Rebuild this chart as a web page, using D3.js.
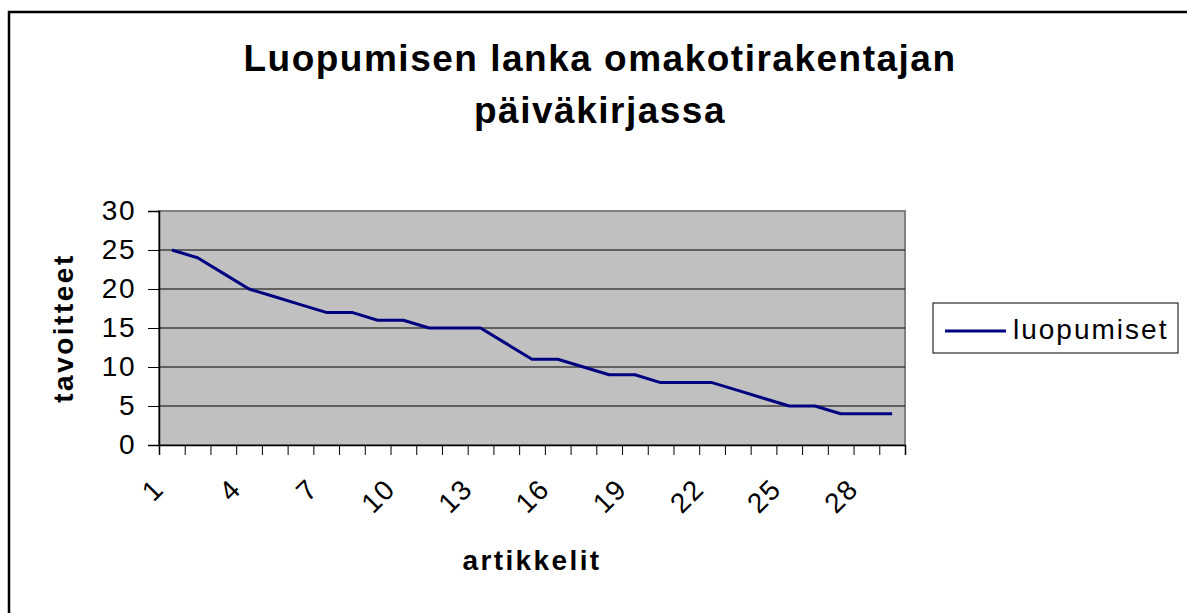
<!DOCTYPE html>
<html>
<head>
<meta charset="utf-8">
<script src="https://cdn.jsdelivr.net/npm/d3@7"></script>
<style>
  body { margin: 0; background: #fff; }
  svg { display: block; font-family: "Liberation Sans", Arial, sans-serif; }
</style>
</head>
<body>
<div id="container"></div>
<script>
let w = 1187;
let h = 613;

// data
let articles = [1,2,3,4,5,6,7,8,9,10,11,12,13,14,15,16,17,18,19,20,21,22,23,24,25,26,27,28,29];
let luopumiset = [25,24,22,20,19,18,17,17,16,16,15,15,15,13,11,11,10,9,9,8,8,8,7,6,5,5,4,4,4];
let xLabels = [1,4,7,10,13,16,19,22,25,28];
let yTicks = [0,5,10,15,20,25,30];
let titleLines = ["Luopumisen lanka omakotirakentajan", "päiväkirjassa"];

let viz = d3.select("#container")
  .append("svg")
    .attr("width", w)
    .attr("height", h)
;

// chart border
viz.append("rect")
  .attr("x", 9).attr("y", 12)
  .attr("width", 1300).attr("height", 800)
  .attr("fill", "none")
  .attr("stroke", "#000")
  .attr("stroke-width", 2.5);

let pLeft = 159, pRight = 905, pTop = 211, pBottom = 445;

// scales
let xScale = d3.scaleBand().domain(articles).range([pLeft, pRight]);
let xEdge = d3.scaleLinear().domain([0, articles.length]).range([pLeft, pRight]);
let yScale = d3.scaleLinear().domain([0, 30]).range([pBottom, pTop]);

// plot area
viz.append("rect")
  .attr("x", pLeft).attr("y", pTop)
  .attr("width", pRight - pLeft).attr("height", pBottom - pTop)
  .attr("fill", "#c0c0c0")
  .attr("stroke", "#808080")
  .attr("stroke-width", 2);

// gridlines
viz.append("g").selectAll("line").data(yTicks.filter(d => d > 0 && d < 30)).enter()
  .append("line")
    .attr("x1", pLeft).attr("x2", pRight)
    .attr("y1", d => yScale(d)).attr("y2", d => yScale(d))
    .attr("stroke", "#000")
    .attr("stroke-width", 1);

// y axis
let yAxis = d3.axisLeft(yScale).tickValues(yTicks).tickSize(11).tickPadding(12);
let yAxisGroup = viz.append("g").attr("class", "yaxis")
  .attr("transform", "translate(" + pLeft + ",0)")
  .call(yAxis);
yAxisGroup.select(".domain").attr("stroke", "#000").attr("stroke-width", 1.5);
yAxisGroup.selectAll("line").attr("stroke", "#000");
yAxisGroup.selectAll("text")
  .attr("font-size", 28)
  .attr("letter-spacing", 1.5)
  .attr("fill", "#000")
  .attr("font-family", "Liberation Sans, Arial, sans-serif");

// x axis tick marks at category edges
let xAxis = d3.axisBottom(xEdge).tickValues(d3.range(articles.length + 1)).tickSize(10).tickFormat("");
let xAxisGroup = viz.append("g").attr("class", "xaxis")
  .attr("transform", "translate(0," + pBottom + ")")
  .call(xAxis);
xAxisGroup.select(".domain").attr("stroke", "#000").attr("stroke-width", 1.5);
xAxisGroup.selectAll("line").attr("stroke", "#000");

// x labels, rotated
viz.append("g").selectAll("text").data(xLabels).enter()
  .append("text")
    .attr("transform", d => "translate(" + (xScale(d) + xScale.bandwidth() / 2 - 13) + "," + 484 + ") rotate(-45)")
    .attr("text-anchor", "end")
    .attr("dominant-baseline", "central")
    .attr("font-size", 28)
    .attr("letter-spacing", 1.5)
    .text(d => d);

// line
let line = d3.line()
  .x((d, i) => xScale(articles[i]) + xScale.bandwidth() / 2)
  .y(d => yScale(d));

viz.append("path")
  .datum(luopumiset)
  .attr("d", line)
  .attr("fill", "none")
  .attr("stroke", "#000080")
  .attr("stroke-width", 3)
  .attr("stroke-linejoin", "round");

// title
viz.append("g").selectAll("text").data(titleLines).enter()
  .append("text")
    .attr("x", 600)
    .attr("y", (d, i) => 71 + i * 52)
    .attr("text-anchor", "middle")
    .attr("font-size", 37)
    .attr("font-weight", "bold")
    .attr("letter-spacing", 1.5)
    .text(d => d);

// axis titles
viz.append("text")
  .attr("x", (pLeft + pRight) / 2)
  .attr("y", 570)
  .attr("text-anchor", "middle")
  .attr("font-size", 28)
  .attr("font-weight", "bold")
  .attr("letter-spacing", 2.4)
  .text("artikkelit");

viz.append("text")
  .attr("transform", "translate(73," + ((pTop + pBottom) / 2) + ") rotate(-90)")
  .attr("text-anchor", "middle")
  .attr("font-size", 28)
  .attr("font-weight", "bold")
  .attr("letter-spacing", 2.5)
  .text("tavoitteet");

// legend
let legend = viz.append("g").attr("class", "legend");
legend.append("rect")
  .attr("x", 933).attr("y", 303)
  .attr("width", 245).attr("height", 50)
  .attr("fill", "#fff")
  .attr("stroke", "#000")
  .attr("stroke-width", 1);
legend.append("line")
  .attr("x1", 945).attr("x2", 1006)
  .attr("y1", 331).attr("y2", 331)
  .attr("stroke", "#000080")
  .attr("stroke-width", 3);
legend.append("text")
  .attr("x", 1013).attr("y", 339)
  .attr("font-size", 28)
  .attr("letter-spacing", 2)
  .text("luopumiset");
</script>
</body>
</html>
